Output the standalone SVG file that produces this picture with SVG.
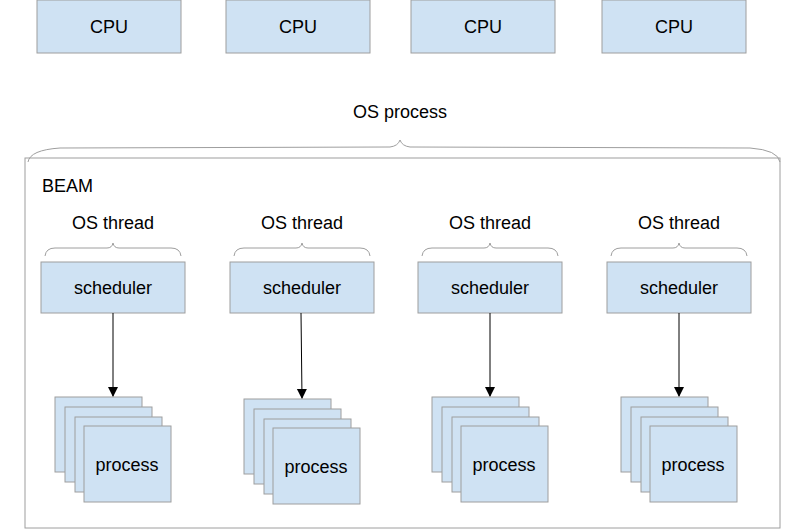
<svg xmlns="http://www.w3.org/2000/svg" width="800" height="530" viewBox="0 0 800 530">
<style>
.box{fill:#cfe2f3;stroke:#9e9e9e;stroke-width:1}
.t{font-family:"Liberation Sans",Arial,sans-serif;font-size:18px;fill:#000;text-anchor:middle}
.br{fill:none;stroke:#9e9e9e;stroke-width:1}
.c{stroke:#000;stroke-width:1}
</style>
<defs><marker id="a" markerWidth="10" markerHeight="12" refX="9" refY="6" orient="auto" markerUnits="userSpaceOnUse"><path d="M0,1 L10,6 L0,11 Z" fill="#000"/></marker></defs>
<rect width="800" height="530" fill="#fff"/>
<g id="cpu1"><rect class="box" x="37" y="0" width="144" height="53"/><text class="t" x="109" y="33">CPU</text></g>
<g id="cpu2"><rect class="box" x="226" y="0" width="144" height="53"/><text class="t" x="298" y="33">CPU</text></g>
<g id="cpu3"><rect class="box" x="411" y="0" width="144" height="53"/><text class="t" x="483" y="33">CPU</text></g>
<g id="cpu4"><rect class="box" x="602" y="0" width="144" height="53"/><text class="t" x="674" y="33">CPU</text></g>
<g id="osprocess"><text class="t" x="400" y="118">OS process</text>
<path class="br" d="M28,162 Q30,150 60,148 L390,147 Q398,146 400,140 Q402,146 410,147 L750,148 Q778,150 780,162"/></g>
<g id="beam"><rect x="25" y="158" width="755" height="370" fill="none" stroke="#9e9e9e"/><text class="t" x="42" y="192" style="text-anchor:start">BEAM</text></g>
<g id="col1"><text class="t" x="113" y="229">OS thread</text><path class="br" d="M45,256 Q46,248 55,248 L107,248 Q112,248 113,243 Q114,248 119,248 L171,248 Q180,248 181,256"/>
<rect class="box" x="41" y="262" width="144" height="51"/><text class="t" x="113" y="294">scheduler</text>
<rect class="box" x="55" y="397" width="87" height="75"/><rect class="box" x="65" y="407" width="87" height="75"/><rect class="box" x="75" y="417" width="87" height="75"/><rect class="box" x="84" y="426" width="87" height="76"/><text class="t" x="127" y="471">process</text></g>
<g id="col2"><text class="t" x="302" y="229">OS thread</text><path class="br" d="M234,256 Q235,248 244,248 L296,248 Q301,248 302,243 Q303,248 308,248 L360,248 Q369,248 370,256"/>
<rect class="box" x="230" y="262" width="144" height="51"/><text class="t" x="302" y="294">scheduler</text>
<rect class="box" x="244" y="399" width="87" height="75"/><rect class="box" x="254" y="409" width="87" height="75"/><rect class="box" x="264" y="419" width="87" height="75"/><rect class="box" x="273" y="428" width="87" height="76"/><text class="t" x="316" y="473">process</text></g>
<g id="col3"><text class="t" x="490" y="229">OS thread</text><path class="br" d="M422,256 Q423,248 432,248 L484,248 Q489,248 490,243 Q491,248 496,248 L548,248 Q557,248 558,256"/>
<rect class="box" x="418" y="262" width="144" height="51"/><text class="t" x="490" y="294">scheduler</text>
<rect class="box" x="432" y="397" width="87" height="75"/><rect class="box" x="442" y="407" width="87" height="75"/><rect class="box" x="452" y="417" width="87" height="75"/><rect class="box" x="461" y="426" width="87" height="76"/><text class="t" x="504" y="471">process</text></g>
<g id="col4"><text class="t" x="679" y="229">OS thread</text><path class="br" d="M611,256 Q612,248 621,248 L673,248 Q678,248 679,243 Q680,248 685,248 L737,248 Q746,248 747,256"/>
<rect class="box" x="607" y="262" width="144" height="51"/><text class="t" x="679" y="294">scheduler</text>
<rect class="box" x="621" y="397" width="87" height="75"/><rect class="box" x="631" y="407" width="87" height="75"/><rect class="box" x="641" y="417" width="87" height="75"/><rect class="box" x="650" y="426" width="87" height="76"/><text class="t" x="693" y="471">process</text></g>
<g id="connectors">
<line class="c" x1="113" y1="313" x2="113" y2="396" marker-end="url(#a)"/>
<line class="c" x1="301" y1="313" x2="302" y2="398" marker-end="url(#a)"/>
<line class="c" x1="490" y1="313" x2="490" y2="396" marker-end="url(#a)"/>
<line class="c" x1="679" y1="313" x2="679" y2="396" marker-end="url(#a)"/>
</g>
</svg>
